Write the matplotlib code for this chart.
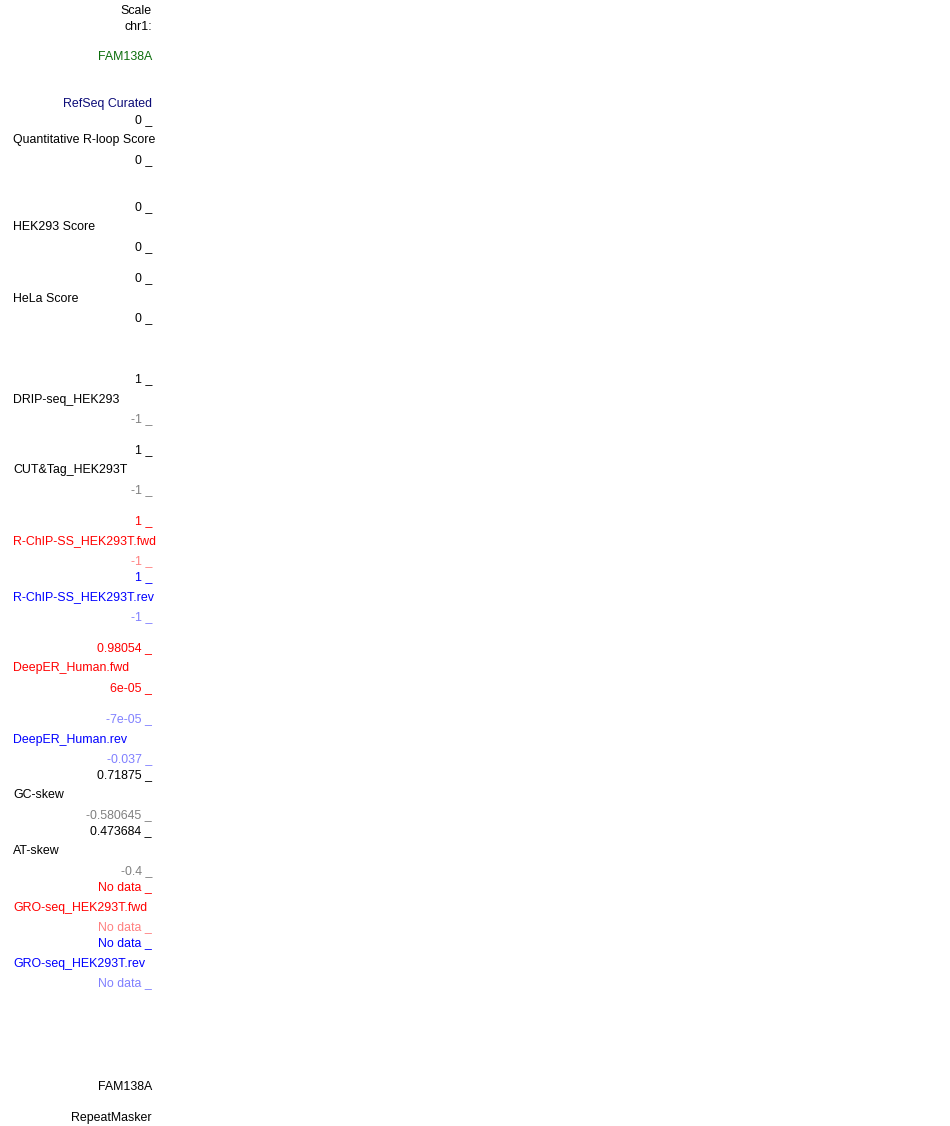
import matplotlib.pyplot as plt
from matplotlib.patches import Rectangle

plt.rcParams['font.family'] = ['Liberation Sans', 'DejaVu Sans']

# header / gene labels (right aligned)
header_labels = ['Scale', 'chr1:', 'FAM138A', 'RefSeq Curated']
header_colors = ['black', 'black', '#0c6e0c', '#0c0c78']
header_rows = [10, 27, 57, 104]

# signal tracks: name, name colour, top value, bottom value
track_names = ['Quantitative R-loop Score', 'HEK293 Score', 'HeLa Score',
               'DRIP-seq_HEK293', 'CUT&Tag_HEK293T',
               'R-ChIP-SS_HEK293T.fwd', 'R-ChIP-SS_HEK293T.rev',
               'DeepER_Human.fwd', 'DeepER_Human.rev',
               'GC-skew', 'AT-skew',
               'GRO-seq_HEK293T.fwd', 'GRO-seq_HEK293T.rev']
track_colors = ['black', 'black', 'black', 'black', 'black',
                '#ff0000', '#0000ff', '#ff0000', '#0000ff',
                'black', 'black', '#ff0000', '#0000ff']
max_labels = ['0', '0', '0', '1', '1', '1', '1', '0.98054', '-7e-05',
              '0.71875', '0.473684', 'No data', 'No data']
min_labels = ['0', '0', '0', '-1', '-1', '-1', '-1', '6e-05', '-0.037',
              '-0.580645', '-0.4', 'No data', 'No data']
max_colors = ['black', 'black', 'black', 'black', 'black',
              '#ff0000', '#0000ff', '#ff0000', '#8080ff',
              'black', 'black', '#ff0000', '#0000ff']
min_colors = ['black', 'black', 'black', '#808080', '#808080',
              '#ff8080', '#8080ff', '#ff0000', '#8080ff',
              '#808080', '#808080', '#ff8080', '#8080ff']

# layout: y of top label of each track (name +20, bottom +40)
track_tops = [120, 207, 278, 379, 450, 521, 577, 648, 719, 775, 831, 887, 943]

footer_labels = ['FAM138A', 'RepeatMasker']
footer_rows = [1086, 1118]

fig = plt.figure(figsize=(9.5, 11.26), dpi=100)
ax = fig.add_axes([0, 0, 1, 1])
ax.set_xlim(0, 950)
ax.set_ylim(1126, 0)
ax.axis('off')

# label panel is cut off on the right, long names get truncated
clip = Rectangle((0, 0), 153.5, 1126, transform=ax.transData)
fs = 8.9
right_x = 152
left_x = 13
dy = 0.5


def put(x, y, s, color, ha):
    t = ax.text(x, y + dy, s, color=color, ha=ha, va='center', fontsize=fs)
    t.set_clip_path(clip)


for s, c, y in zip(header_labels, header_colors, header_rows):
    put(right_x, y, s, c, 'right')

for name, nc, mx, mn, mxc, mnc, top in zip(track_names, track_colors,
                                           max_labels, min_labels,
                                           max_colors, min_colors, track_tops):
    put(right_x, top, mx + ' _', mxc, 'right')
    put(left_x, top + 20, name, nc, 'left')
    put(right_x, top + 40, mn + ' _', mnc, 'right')

for s, y in zip(footer_labels, footer_rows):
    put(right_x, y, s, 'black', 'right')

fig.savefig('out.png', dpi=100)
